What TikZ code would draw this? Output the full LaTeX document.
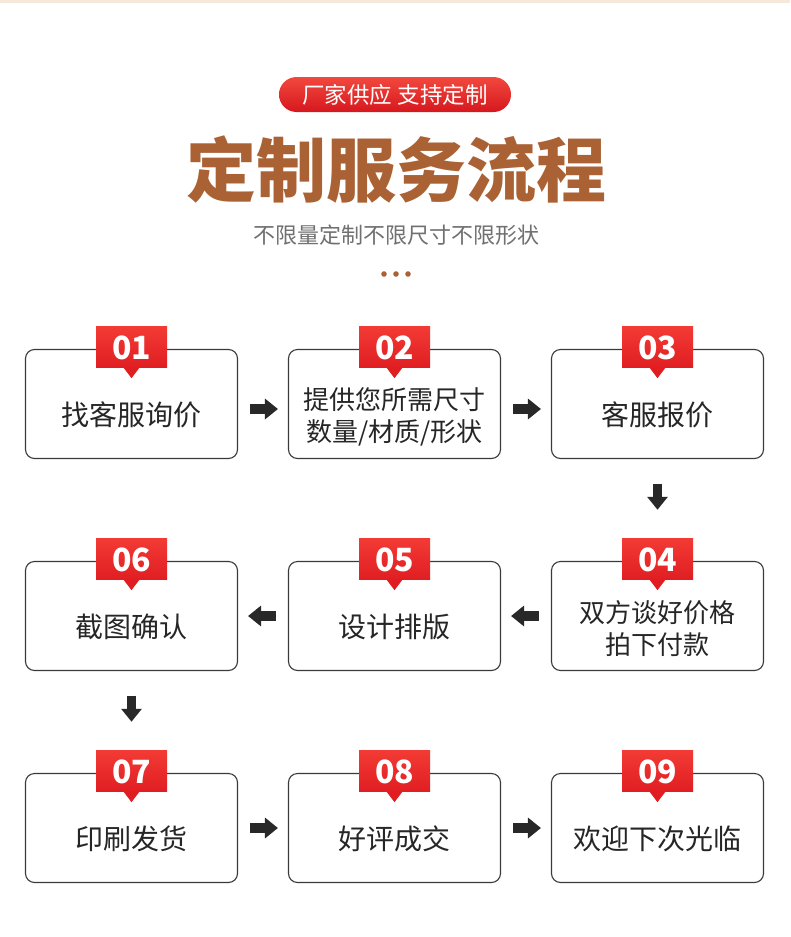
\documentclass[tikz,border=0pt]{standalone}
\usepackage{fontspec}
\setmainfont{Noto Sans CJK SC}
\usetikzlibrary{arrows.meta}
\definecolor{titlebrown}{RGB}{170,98,52}
\definecolor{pilltop}{RGB}{242,72,62}
\definecolor{pillbot}{RGB}{214,24,30}
\definecolor{badgetop}{RGB}{242,58,52}
\definecolor{badgebot}{RGB}{224,30,34}
\definecolor{textdark}{RGB}{38,38,38}
\definecolor{boxline}{RGB}{58,58,58}
\definecolor{arrowdark}{RGB}{40,40,40}
\definecolor{subgray}{RGB}{112,112,112}
\definecolor{band}{RGB}{247,232,220}
\newcommand{\flowstep}[6]{%
  \node[stepbox] (b#1) at (#2,#3) {};
  \node[steptext,#6] (t#1) at (b#1.center) {#5};
  \node[badge] (n#1) at ([yshift=1.5pt]b#1.north) {#4};
  \fill[badgebot] ([xshift=-8pt,yshift=0.5pt]n#1.south) -- ([xshift=8pt,yshift=0.5pt]n#1.south) -- ([yshift=-10pt]n#1.south) -- cycle;
}
\begin{document}
\begin{tikzpicture}[x=1pt,y=-1pt,
  stepbox/.style={draw=boxline, line width=1.1pt, rounded corners=9pt, minimum width=212pt, minimum height=109pt, fill=white, inner sep=0pt},
  steptext/.style={text=textdark, font=\fontsize{28}{32}\selectfont, align=center, inner sep=0pt},
  twoline/.style={font=\fontsize{26}{32}\selectfont},
  badge/.style={top color=badgetop, bottom color=badgebot, minimum width=71pt, minimum height=41pt, inner sep=0pt, text=white, font=\bfseries\fontsize{32}{32}\selectfont},
  flow/.style={draw=arrowdark, line width=9.5pt, -{Triangle[width=20pt,length=13pt]}},
]
\useasboundingbox (0,0) rectangle (790,937);
\fill[white] (0,0) rectangle (790,937);
\fill[band] (0,0) rectangle (790,3);

\node[top color=pilltop, bottom color=pillbot, rounded corners=17.5pt, minimum width=232pt, minimum height=35pt, inner sep=0pt, text=white, font=\fontsize{22.5}{24}\selectfont] (pill) at (395,94.5) {厂家供应 支持定制};
\node[text=titlebrown, font=\bfseries\fontsize{70}{70}\selectfont, inner sep=0pt] (title) at (396,170) {定制服务流程};
\node[text=subgray, font=\fontsize{22}{22}\selectfont, inner sep=0pt] (sub) at (396,235) {不限量定制不限尺寸不限形状};
\fill[titlebrown] (384,274) circle (2.8pt);
\fill[titlebrown] (396,274) circle (2.8pt);
\fill[titlebrown] (408,274) circle (2.8pt);

\flowstep{1}{131.5}{404}{01}{找客服询价}{yshift=-11pt}
\flowstep{2}{394.5}{404}{02}{提供您所需尺寸\\数量/材质/形状}{twoline,yshift=-13pt}
\flowstep{3}{657.5}{404}{03}{客服报价}{yshift=-11pt}
\flowstep{4}{657.5}{616}{04}{双方谈好价格\\拍下付款}{twoline,yshift=-13pt}
\flowstep{5}{394.5}{616}{05}{设计排版}{yshift=-11pt}
\flowstep{6}{131.5}{616}{06}{截图确认}{yshift=-11pt}
\flowstep{7}{131.5}{828}{07}{印刷发货}{yshift=-11pt}
\flowstep{8}{394.5}{828}{08}{好评成交}{yshift=-11pt}
\flowstep{9}{657.5}{828}{09}{欢迎下次光临}{yshift=-11pt}

\draw[flow, shorten <=12pt, shorten >=10pt] ([yshift=-5pt]b1.east) -- ([yshift=-5pt]b2.west);
\draw[flow, shorten <=12pt, shorten >=10pt] ([yshift=-5pt]b2.east) -- ([yshift=-5pt]b3.west);
\draw[flow, shorten <=24.5pt, shorten >=29pt] (b3.south) -- (n4.north);
\draw[flow, shorten <=12pt, shorten >=10pt] (b4.west) -- (b5.east);
\draw[flow, shorten <=12pt, shorten >=10pt] (b5.west) -- (b6.east);
\draw[flow, shorten <=24.5pt, shorten >=29pt] (b6.south) -- (n7.north);
\draw[flow, shorten <=12pt, shorten >=10pt] (b7.east) -- (b8.west);
\draw[flow, shorten <=12pt, shorten >=10pt] (b8.east) -- (b9.west);
\end{tikzpicture}
\end{document}
